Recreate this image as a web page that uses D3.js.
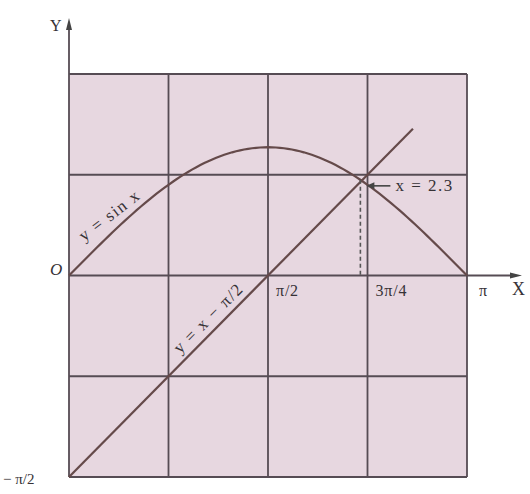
<!DOCTYPE html>
<html><head><meta charset="utf-8">
<script src="https://cdn.jsdelivr.net/npm/d3@7"></script>
<style>html,body{margin:0;padding:0;background:#fff;}svg{display:block;}</style>
</head><body>
<svg id="c" width="530" height="494"></svg>
<script>
const PI = Math.PI;
// Grid / tick positions (radians)
const xGrid = [0, PI/4, PI/2, 3*PI/4, PI];
const yGrid = [-PI/2, -PI/4, 0, PI/4, PI/2];
const xTickLabels = [{v: PI/2, t: "π/2"}, {v: 3*PI/4, t: "3π/4"}, {v: PI, t: "π"}];
const yTickLabels = [{v: -PI/2, t: "− π/2"}];
// Curves
const sineX = d3.range(0, 101).map(i => i * PI / 100);
const lineX = [0, 2.715];
const intersectX = 2.3;

const svg = d3.select("#c");
const x = d3.scaleLinear().domain([0, PI]).range([69, 467]);
const y = d3.scaleLinear().domain([-PI/2, PI/2]).range([477, 74]);

const gridColor = "#564c54";
const curveColor = "#654a4a";
const textColor = "#363236";
const font = "Liberation Serif, serif";

// background
svg.append("rect").attr("x", x(0)).attr("y", y(PI/2))
  .attr("width", x(PI) - x(0)).attr("height", y(-PI/2) - y(PI/2))
  .attr("fill", "#e7d7e0");

// grid
svg.selectAll(".vg").data(xGrid).enter().append("line")
  .attr("x1", d => x(d)).attr("x2", d => x(d))
  .attr("y1", y(PI/2)).attr("y2", y(-PI/2))
  .attr("stroke", gridColor).attr("stroke-width", 1.8);
svg.selectAll(".hg").data(yGrid).enter().append("line")
  .attr("x1", x(0)).attr("x2", x(PI))
  .attr("y1", d => y(d)).attr("y2", d => y(d))
  .attr("stroke", gridColor).attr("stroke-width", 1.8);

// axes extensions with arrows
svg.append("line").attr("x1", x(0)).attr("x2", x(0)).attr("y1", y(PI/2)).attr("y2", 24)
  .attr("stroke", gridColor).attr("stroke-width", 1.8);
svg.append("path").attr("d", `M${x(0)-3},30 L${x(0)},18 L${x(0)+3},30 Z`).attr("fill", "#444");
svg.append("line").attr("x1", x(PI)).attr("x2", 516).attr("y1", y(0)).attr("y2", y(0))
  .attr("stroke", gridColor).attr("stroke-width", 1.8);
svg.append("path").attr("d", `M510,${y(0)-3} L522,${y(0)} L510,${y(0)+3} Z`).attr("fill", "#444");

// curves
svg.append("path").datum(sineX)
  .attr("d", d3.line().x(d => x(d)).y(d => y(Math.sin(d))))
  .attr("fill", "none").attr("stroke", curveColor).attr("stroke-width", 2.2);
svg.append("path").datum(lineX)
  .attr("d", d3.line().x(d => x(d)).y(d => y(d - PI/2)))
  .attr("fill", "none").attr("stroke", curveColor).attr("stroke-width", 2.2);

// intersection dashed drop
svg.append("line").attr("x1", x(intersectX)).attr("x2", x(intersectX))
  .attr("y1", y(Math.sin(intersectX))).attr("y2", y(0))
  .attr("stroke", "#555").attr("stroke-width", 1.6).attr("stroke-dasharray", "4,3");

// annotation arrow
const ay = y(Math.sin(intersectX)) + 6;
svg.append("line").attr("x1", x(intersectX) + 30).attr("x2", x(intersectX) + 10)
  .attr("y1", ay).attr("y2", ay).attr("stroke", "#444").attr("stroke-width", 1.6);
svg.append("path").attr("d", `M${x(intersectX)+6},${ay} L${x(intersectX)+14},${ay-3.5} L${x(intersectX)+14},${ay+3.5} Z`).attr("fill", "#444");
svg.append("text").attr("x", x(intersectX) + 35).attr("y", ay + 5)
  .attr("font-family", font).attr("font-size", 17).attr("letter-spacing", 1.5).attr("fill", textColor)
  .text("x = 2.3");

// tick labels
svg.selectAll(".xl").data(xTickLabels).enter().append("text")
  .attr("x", d => x(d.v) + (d.v === PI ? 12 : 8)).attr("y", y(0) + 20)
  .attr("font-family", font).attr("font-size", 16).attr("letter-spacing", 0.8).attr("fill", textColor)
  .text(d => d.t);
svg.selectAll(".yl").data(yTickLabels).enter().append("text")
  .attr("x", 3).attr("y", d => y(d.v) + 7)
  .attr("font-family", font).attr("font-size", 15).attr("fill", textColor)
  .text(d => d.t);

svg.append("text").attr("x", 50).attr("y", y(0) - 1)
  .attr("font-family", font).attr("font-style", "italic").attr("font-size", 17).attr("fill", textColor).text("O");
svg.append("text").attr("x", 50).attr("y", 31)
  .attr("font-family", font).attr("font-size", 16).attr("fill", textColor).text("Y");
svg.append("text").attr("x", 512).attr("y", y(0) + 19)
  .attr("font-family", font).attr("font-size", 18).attr("fill", textColor).text("X");

// curve labels
svg.append("text")
  .attr("transform", `translate(${x(0.39)},${y(Math.sin(0.39))}) rotate(-37.5)`)
  .attr("y", -9).attr("text-anchor", "middle")
  .attr("font-family", font).attr("font-size", 17).attr("letter-spacing", 1.5).attr("fill", textColor)
  .text("y = sin x");
svg.append("text")
  .attr("transform", `translate(${x(1.17)},${y(1.17 - PI/2)}) rotate(-45)`)
  .attr("y", -7).attr("text-anchor", "middle")
  .attr("font-family", font).attr("font-size", 17).attr("letter-spacing", 1.5).attr("fill", textColor)
  .text("y = x − π/2");
</script>
</body></html>
